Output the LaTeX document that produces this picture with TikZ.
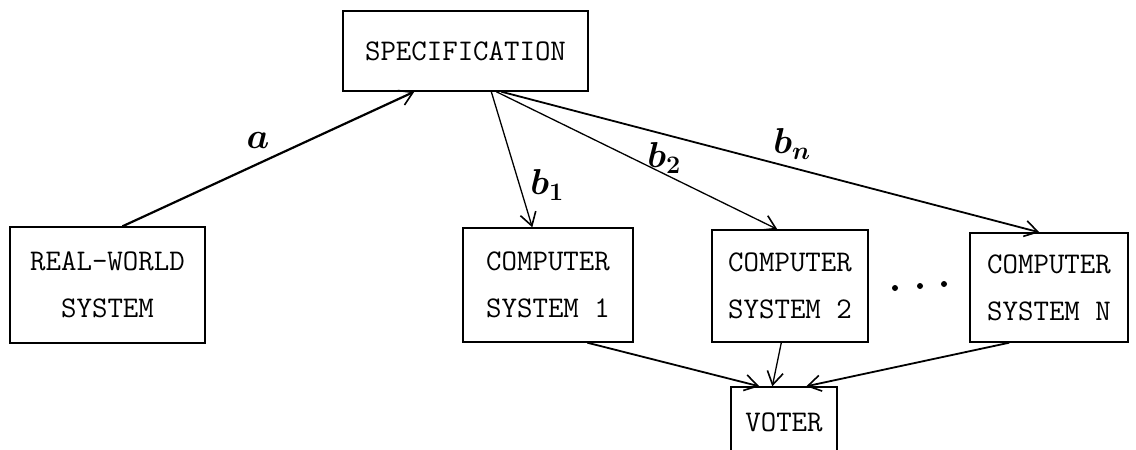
\RequirePackage{fix-cm}
\documentclass[tikz,border=0pt]{standalone}
\usetikzlibrary{arrows.meta}
\begin{document}
\begin{tikzpicture}[x=1pt,y=-1pt,
  box/.style={draw, line width=1.4pt, rectangle, inner sep=0pt,
    font=\fontsize{30}{47}\selectfont\ttfamily, align=center},
  conn/.style={line width=1.8pt, -{Straight Barb[length=13pt,width=16pt,line width=1.6pt]}},
  thin conn/.style={conn, line width=1.3pt},
  lbl/.style={inner sep=0pt, font=\fontsize{36}{40}\selectfont\boldmath}]
\useasboundingbox (0,0) rectangle (1136,450);
\clip (0,0) rectangle (1136,450);
\fill[white] (0,0) rectangle (1136,450);

\node[box, minimum width=245pt, minimum height=80pt] (spec) at (465.5,51) {SPECIFICATION};
\node[box, minimum width=195pt, minimum height=116pt] (real) at (107.5,285) {REAL-WORLD\\SYSTEM};
\node[box, minimum width=170pt, minimum height=114pt] (c1) at (548,285) {COMPUTER\\SYSTEM 1};
\node[box, minimum width=156pt, minimum height=112pt] (c2) at (790,286) {COMPUTER\\SYSTEM 2};
\node[box, minimum width=158pt, minimum height=109pt] (cn) at (1049,287.5) {COMPUTER\\SYSTEM N};
\node[box, minimum width=106pt, minimum height=70pt, text depth=0pt] (voter) at (784,422) {VOTER};

% dots
\fill (895,288) circle (3pt);
\fill (920,286) circle (3pt);
\fill (944,284) circle (3pt);

% arrows to/from specification
\draw[conn, line width=2.2pt] ([xshift=15pt]real.north) -- ([xshift=72pt]spec.south west);
\draw[thin conn] ([xshift=149pt]spec.south west) -- ([xshift=70pt]c1.north west);
\draw[thin conn] ([xshift=154pt]spec.south west) -- ([xshift=66pt]c2.north west);
\draw[conn] ([xshift=159pt]spec.south west) -- ([xshift=70pt]cn.north west);

% arrows to voter
\draw[conn] ([xshift=125pt]c1.south west) -- ([xshift=29pt]voter.north west);
\draw[thin conn] ([xshift=70pt]c2.south west) -- ([xshift=42pt]voter.north west);
\draw[conn] ([xshift=40pt]cn.south west) -- ([xshift=76pt]voter.north west);

% labels
\node[lbl] (la) at (258,140) {$a$};
\node[lbl] (lb1) at (547,185) {$b_{1}$};
\node[lbl] (lb2) at (664,158) {$b_{2}$};
\node[lbl] (lbn) at (792,144) {$b_{n}$};
\end{tikzpicture}
\end{document}
